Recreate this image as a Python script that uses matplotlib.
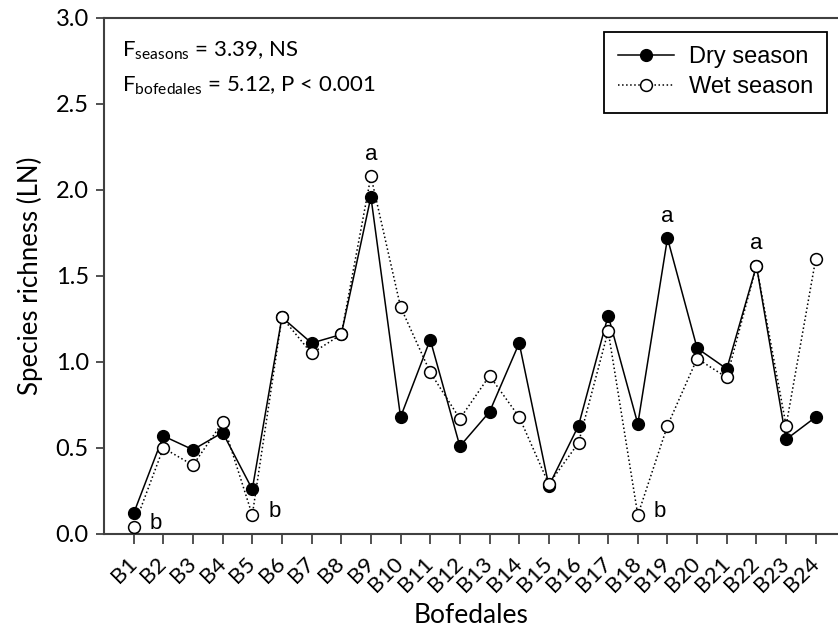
import matplotlib
matplotlib.use("Agg")
import matplotlib.pyplot as plt
import numpy as np

# bofedales B1..B24
sites = ["B%d" % i for i in range(1, 25)]

# species richness (LN)
dry = [0.12, 0.57, 0.49, 0.59, 0.26, 1.26, 1.11, 1.16, 1.96, 0.68, 1.13, 0.51,
       0.71, 1.11, 0.28, 0.63, 1.27, 0.64, 1.72, 1.08, 0.96, 1.56, 0.55, 0.68]
wet = [0.04, 0.50, 0.40, 0.65, 0.11, 1.26, 1.05, 1.16, 2.08, 1.32, 0.94, 0.67,
       0.92, 0.68, 0.29, 0.53, 1.18, 0.11, 0.63, 1.02, 0.91, 1.56, 0.63, 1.60]

# significance letters: (site index, letter)
letters_a = [(9, "a"), (19, "a"), (22, "a")]
letters_b = [(1, "b"), (5, "b"), (18, "b")]

calibri_like = "Lato"
arial_like = "Liberation Sans"

fig = plt.figure(figsize=(8.38, 6.27), dpi=100)
ax = fig.add_axes([104 / 838, 1 - 534 / 627, 1 - 104 / 838, (534 - 18) / 627])

x = np.arange(1, len(sites) + 1)
ax.plot(x, dry, "-", color="black", lw=1.1, marker="o", ms=8.5,
        mfc="black", mec="black", label="Dry season", zorder=3)
ax.plot(x, wet, ":", color="black", lw=1.1, marker="o", ms=8.5,
        mfc="white", mec="black", mew=1.1, label="Wet season", zorder=4)

ax.set_xlim(0, 24.75)
ax.set_ylim(0, 3.0)
ax.set_xticks(x)
ax.set_xticklabels(sites, rotation=45, ha="right", va="center",
                   rotation_mode="anchor", fontsize=16, family=calibri_like)
ax.set_yticks(np.arange(0, 3.01, 0.5))
ax.set_yticklabels(["%.1f" % v for v in np.arange(0, 3.01, 0.5)],
                   fontsize=17, family=calibri_like)
ax.tick_params(axis="x", direction="out", length=7, width=1.2, color="#333333", pad=12)
ax.tick_params(axis="y", direction="out", length=6, width=1.2, color="#333333", pad=5)

for s in ["left", "bottom", "top"]:
    ax.spines[s].set_color("#404040")
    ax.spines[s].set_linewidth(1.5)
ax.spines["right"].set_visible(False)

ax.set_xlabel("Bofedales", fontsize=19, family=calibri_like)
ax.xaxis.set_label_coords(0.5, -0.133)
ax.set_ylabel("Species richness (LN)", fontsize=18.5, family=calibri_like, labelpad=9)

# significance letters
for i, lab in letters_a:
    top = max(dry[i - 1], wet[i - 1])
    ax.annotate(lab, (i, top), xytext=(0, 22), textcoords="offset pixels",
                ha="center", va="center", fontsize=16, family=arial_like)
for i, lab in letters_b:
    low = min(dry[i - 1], wet[i - 1])
    ax.annotate(lab, (i, low), xytext=(22, 4), textcoords="offset pixels",
                ha="center", va="center", fontsize=16, family=arial_like)

# statistics text
ax.text(122 / 838, 1 - 51 / 627, r"F$_{\mathregular{seasons}}$ = 3.39, NS",
        transform=fig.transFigure, fontsize=16, family=calibri_like, va="center")
ax.text(122 / 838, 1 - 86 / 627, r"F$_{\mathregular{bofedales}}$ = 5.12, P < 0.001",
        transform=fig.transFigure, fontsize=16, family=calibri_like, va="center")

leg = ax.legend(loc="upper right", bbox_to_anchor=(827 / 838, 1 - 32 / 627),
                bbox_transform=fig.transFigure, borderaxespad=0,
                fancybox=False, framealpha=1, edgecolor="black",
                prop={"family": arial_like, "size": 17},
                handlelength=2.4, labelspacing=0.35, handletextpad=0.6,
                borderpad=0.6)
leg.get_frame().set_linewidth(1.3)

fig.savefig("out.png", dpi=100)
